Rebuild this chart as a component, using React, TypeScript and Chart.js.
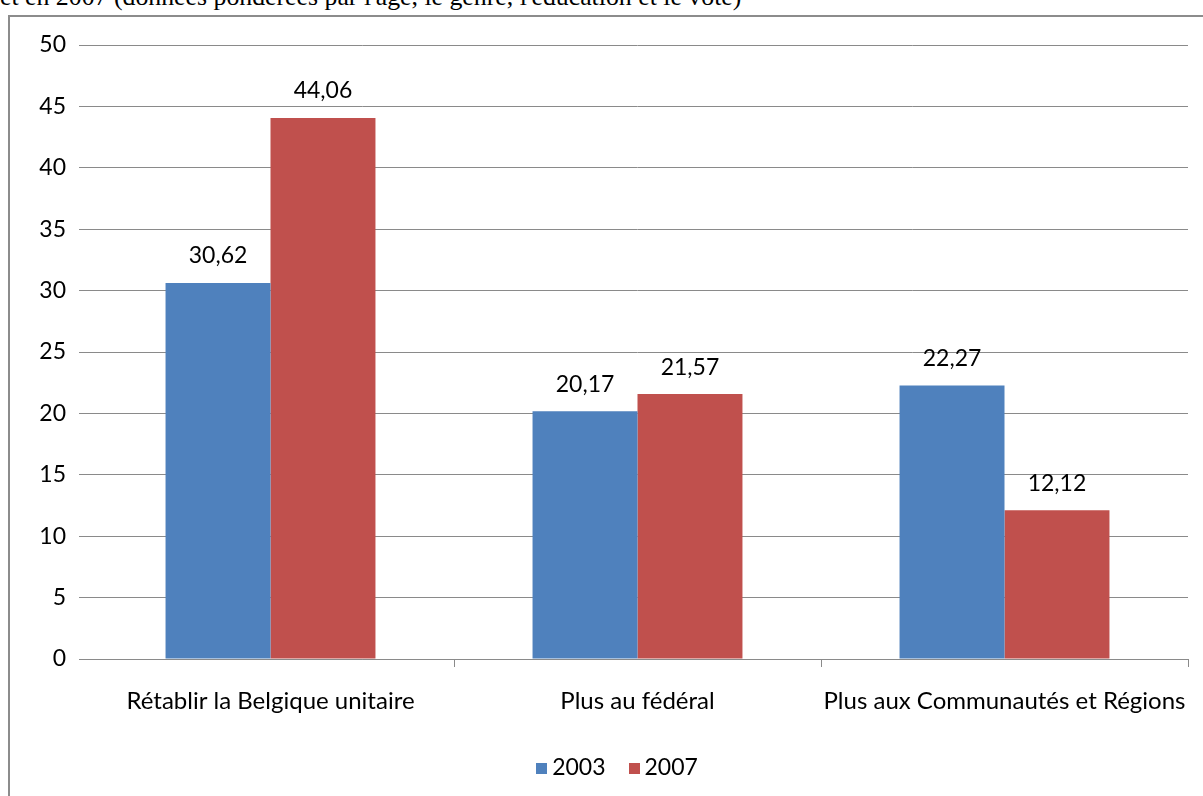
import React, { useEffect, useRef } from "react";
import { Chart, registerables } from "chart.js";

Chart.register(...registerables);

const categories = [
  "Rétablir la Belgique unitaire",
  "Plus au fédéral",
  "Plus aux Communautés et Régions",
];
const seriesNames = ["2003", "2007"];
const values2003 = [30.62, 20.17, 22.27];
const values2007 = [44.06, 21.57, 12.12];
const yMin = 0;
const yMax = 50;
const yStep = 5;
const headerText =
  "et en 2007 (données pondérées par l'âge, le genre, l'éducation et le vote)";

const FONT = "Lato, 'Open Sans', sans-serif";
const GRID = "#8a8a8a";
const CANVAS_W = 1193;
const CANVAS_H = 779;

const valueLabels = {
  id: "valueLabels",
  afterDatasetsDraw(chart: any) {
    const ctx = chart.ctx;
    ctx.save();
    ctx.font = `23px ${FONT}`;
    ctx.fillStyle = "#000";
    ctx.textAlign = "center";
    ctx.textBaseline = "middle";
    chart.data.datasets.forEach((ds: any, di: number) => {
      const meta = chart.getDatasetMeta(di);
      meta.data.forEach((el: any, i: number) => {
        const v = ds.data[i] as number;
        const txt = v.toFixed(2).replace(".", ",");
        ctx.fillText(txt, el.x, el.y - 27);
      });
    });
    ctx.restore();
  },
};

// Excel-style legend: small square, 5px gap, text; centred below the axis
const bottomLegend = {
  id: "bottomLegend",
  afterDraw(chart: any) {
    const ctx = chart.ctx;
    const box = 11;
    const gap = 5;
    const spacing = 23;
    const centerX = 607;
    const centerY = 751;
    ctx.save();
    ctx.font = `23px ${FONT}`;
    ctx.textBaseline = "middle";
    ctx.textAlign = "left";
    const items = chart.data.datasets.map((ds: any) => ({
      text: ds.label as string,
      color: ds.backgroundColor as string,
      w: ctx.measureText(ds.label).width,
    }));
    const total =
      items.reduce((a: number, it: any) => a + box + gap + it.w, 0) +
      spacing * (items.length - 1);
    let x = centerX - total / 2;
    items.forEach((it: any) => {
      ctx.fillStyle = it.color;
      ctx.fillRect(Math.round(x), Math.round(centerY - box / 2), box, box);
      ctx.fillStyle = "#000";
      ctx.fillText(it.text, x + box + gap, centerY);
      x += box + gap + it.w + spacing;
    });
    ctx.restore();
  },
};

export default function App() {
  const ref = useRef<HTMLCanvasElement | null>(null);

  useEffect(() => {
    if (!ref.current) return;
    const chart = new Chart(ref.current, {
      type: "bar",
      data: {
        labels: categories,
        datasets: [
          {
            label: seriesNames[0],
            data: values2003,
            backgroundColor: "#4F81BD",
            borderWidth: 0,
            categoryPercentage: 0.572,
            barPercentage: 1.0,
          },
          {
            label: seriesNames[1],
            data: values2007,
            backgroundColor: "#C0504D",
            borderWidth: 0,
            categoryPercentage: 0.572,
            barPercentage: 1.0,
          },
        ],
      },
      options: {
        responsive: false,
        animation: false,
        devicePixelRatio: 1,
        layout: { padding: { left: 0, top: 28, right: 15, bottom: 56 } },
        plugins: {
          legend: { display: false },
          tooltip: { enabled: false },
          title: { display: false },
        },
        scales: {
          x: {
            afterFit: (s: any) => {
              s.height = 81;
              s.paddingLeft = 0;
              s.paddingRight = 0;
            },
            grid: {
              display: true,
              drawOnChartArea: false,
              drawTicks: true,
              tickLength: 8,
              offset: true,
              color: (c: any) => (c.index === 0 ? "rgba(0,0,0,0)" : GRID),
              lineWidth: 1,
            },
            border: { display: true, color: GRID, width: 1 },
            ticks: {
              padding: 20,
              color: "#000",
              font: { family: FONT, size: 24 },
              maxRotation: 0,
              autoSkip: false,
            },
          },
          y: {
            min: yMin,
            max: yMax,
            afterFit: (s: any) => {
              s.width = 77;
            },
            grid: {
              display: true,
              drawTicks: true,
              tickLength: 8,
              color: GRID,
              lineWidth: 1,
            },
            border: { display: false },
            ticks: {
              stepSize: yStep,
              padding: 13,
              color: "#000",
              font: { family: FONT, size: 23 },
            },
          },
        },
      },
      plugins: [valueLabels, bottomLegend],
    });
    return () => chart.destroy();
  }, []);

  return (
    <div
      style={{
        position: "fixed",
        left: 0,
        top: 0,
        width: 1203,
        height: 796,
        overflow: "hidden",
        background: "#fff",
      }}
    >
      <div
        style={{
          position: "absolute",
          left: 0,
          top: -16,
          fontFamily: "'Liberation Serif', 'Times New Roman', serif",
          fontSize: 25.8,
          lineHeight: "26px",
          whiteSpace: "nowrap",
          color: "#000",
        }}
      >
        {headerText}
      </div>
      <div
        style={{
          position: "absolute",
          left: 8,
          top: 15,
          width: 1210,
          height: 800,
          borderLeft: "2px solid #8c8c8c",
          borderTop: "2px solid #8c8c8c",
          background: "#fff",
        }}
      >
        <canvas
          ref={ref}
          width={CANVAS_W}
          height={CANVAS_H}
          style={{ display: "block", width: CANVAS_W, height: CANVAS_H }}
        />
      </div>
    </div>
  );
}
